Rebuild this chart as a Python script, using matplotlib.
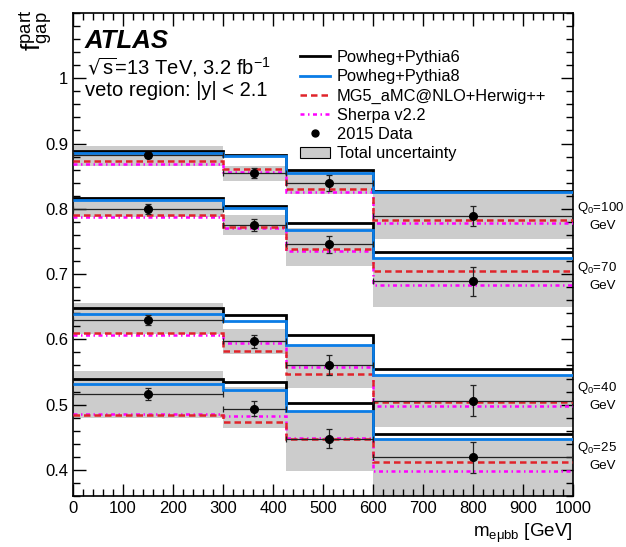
import numpy as np
import matplotlib.pyplot as plt
from matplotlib.lines import Line2D
from matplotlib.patches import Patch
from matplotlib.ticker import MultipleLocator, FormatStrFormatter

plt.rcParams['font.family'] = ['Liberation Sans', 'DejaVu Sans']
plt.rcParams['mathtext.default'] = 'regular'

# bin edges in m_emubb [GeV]
edges = [0, 300, 425, 600, 1000]
q0_labels = ['100', '70', '40', '25']

# predictions, one list per Q0 (100, 70, 40, 25)
pythia6 = [[0.889, 0.883, 0.860, 0.827],
           [0.817, 0.805, 0.778, 0.734],
           [0.648, 0.638, 0.606, 0.554],
           [0.540, 0.534, 0.502, 0.455]]
pythia8 = [[0.886, 0.881, 0.855, 0.826],
           [0.813, 0.802, 0.768, 0.725],
           [0.639, 0.628, 0.592, 0.545],
           [0.532, 0.522, 0.490, 0.447]]
mg5 = [[0.874, 0.861, 0.830, 0.783],
       [0.790, 0.772, 0.739, 0.704],
       [0.609, 0.582, 0.547, 0.504],
       [0.484, 0.474, 0.447, 0.412]]
sherpa = [[0.868, 0.856, 0.825, 0.779],
          [0.788, 0.770, 0.736, 0.684],
          [0.606, 0.594, 0.558, 0.498],
          [0.486, 0.483, 0.449, 0.399]]

# 2015 data and its errors
data = [[0.882, 0.855, 0.840, 0.789],
        [0.800, 0.775, 0.746, 0.689],
        [0.630, 0.597, 0.561, 0.506],
        [0.516, 0.494, 0.448, 0.419]]
data_err = [[0.004, 0.0075, 0.012, 0.016],
            [0.008, 0.009, 0.013, 0.022],
            [0.008, 0.010, 0.015, 0.024],
            [0.009, 0.011, 0.015, 0.024]]

# total uncertainty band (low, high)
band_lo = [[0.866, 0.843, 0.823, 0.753],
           [0.787, 0.760, 0.713, 0.650],
           [0.608, 0.577, 0.525, 0.465],
           [0.480, 0.464, 0.399, 0.352]]
band_hi = [[0.896, 0.866, 0.858, 0.826],
           [0.818, 0.790, 0.770, 0.725],
           [0.656, 0.616, 0.592, 0.545],
           [0.551, 0.527, 0.489, 0.447]]

# y positions of the Q0 labels on the right
q0_label_y = [0.802, 0.709, 0.526, 0.434]

blue = '#0a7ce6'
red = '#e0242a'
magenta = '#ff00ff'
grey = '#cccccc'
mg_ls = (0, (2.6, 1.6))
sh_ls = (0, (1.6, 1.4, 0.6, 1.4))

fig = plt.figure(figsize=(6.26, 5.47), dpi=100)
ax = fig.add_axes([73 / 626, 1 - 496 / 547, 500 / 626, 483 / 547])

edges = np.array(edges)
centers = 0.5 * (edges[1:] + edges[:-1])
halfw = 0.5 * np.diff(edges)

for i in range(4):
    lo = np.array(band_lo[i])
    hi = np.array(band_hi[i])
    ax.bar(edges[:-1], hi - lo, bottom=lo, width=np.diff(edges), align='edge',
           color=grey, linewidth=0, zorder=1)

for i in range(4):
    ax.stairs(sherpa[i], edges, baseline=None, color=magenta, lw=1.8,
              linestyle=sh_ls, zorder=3)
    ax.stairs(mg5[i], edges, baseline=None, color=red, lw=1.8,
              linestyle=mg_ls, zorder=4)
    ax.stairs(pythia6[i], edges, baseline=None, color='black', lw=2.0, zorder=5)
    ax.stairs(pythia8[i], edges, baseline=None, color=blue, lw=2.0, zorder=6)
    ax.errorbar(centers, data[i], yerr=data_err[i], xerr=halfw, fmt='o',
                color='black', ms=5.5, elinewidth=0.9, capsize=2, capthick=0.9,
                ecolor='#222222', zorder=7)

ax.set_xlim(0, 1000)
ax.set_ylim(0.36, 1.1)
ax.xaxis.set_major_locator(MultipleLocator(100))
ax.xaxis.set_minor_locator(MultipleLocator(20))
ax.yaxis.set_major_locator(MultipleLocator(0.1))
ax.yaxis.set_minor_locator(MultipleLocator(0.02))
ax.yaxis.set_major_formatter(FormatStrFormatter('%g'))
ax.tick_params(which='both', direction='in', top=True, right=True, labelsize=12,
               width=1.0)
ax.tick_params(which='major', length=9)
ax.tick_params(which='minor', length=5)
ax.set_yticks([0.4, 0.5, 0.6, 0.7, 0.8, 0.9, 1.0])
for s in ax.spines.values():
    s.set_linewidth(1.2)

ax.set_xlabel(r'm$_{e\mu bb}$ [GeV]', fontsize=13.5, loc='right')
fig.text(36 / 626, 1 - 10 / 547, r'f$^{part}_{gap}$', fontsize=19, rotation=90,
         ha='center', va='top')

ax.text(0.024, 0.967, 'ATLAS', transform=ax.transAxes, fontsize=18.5,
        fontweight='bold', fontstyle='italic', va='top')
ax.text(0.028, 0.888, r'$\sqrt{s}$=13 TeV, 3.2 fb$^{-1}$', transform=ax.transAxes,
        fontsize=14.5, va='center')
ax.text(0.024, 0.839, 'veto region: |y| < 2.1', transform=ax.transAxes,
        fontsize=14.5, va='center')

for lab, yv in zip(q0_labels, q0_label_y):
    ax.annotate(r'Q$_0$=' + lab, xy=(1.0, yv), xycoords=('axes fraction', 'data'),
                xytext=(3, 0), textcoords='offset points', fontsize=9.5,
                va='center', ha='left', annotation_clip=False)
    ax.annotate('GeV', xy=(1.0, yv), xycoords=('axes fraction', 'data'),
                xytext=(12, -13), textcoords='offset points', fontsize=9.5,
                va='center', ha='left', annotation_clip=False)

handles = [
    Line2D([], [], color='black', lw=2.0),
    Line2D([], [], color=blue, lw=2.0),
    Line2D([], [], color=red, lw=1.8, linestyle=mg_ls),
    Line2D([], [], color=magenta, lw=1.8, linestyle=sh_ls),
    Line2D([], [], color='black', marker='o', ms=5, lw=0),
    Patch(facecolor=grey, edgecolor='black', linewidth=0.8),
]
labels = ['Powheg+Pythia6', 'Powheg+Pythia8', 'MG5_aMC@NLO+Herwig++',
          'Sherpa v2.2', '2015 Data', 'Total uncertainty']
ax.legend(handles, labels, loc='upper left', bbox_to_anchor=(0.441, 0.937),
          frameon=False, fontsize=11.8, handlelength=1.8, labelspacing=0.26,
          handletextpad=0.45, borderaxespad=0)

fig.savefig('out.png', dpi=100)
